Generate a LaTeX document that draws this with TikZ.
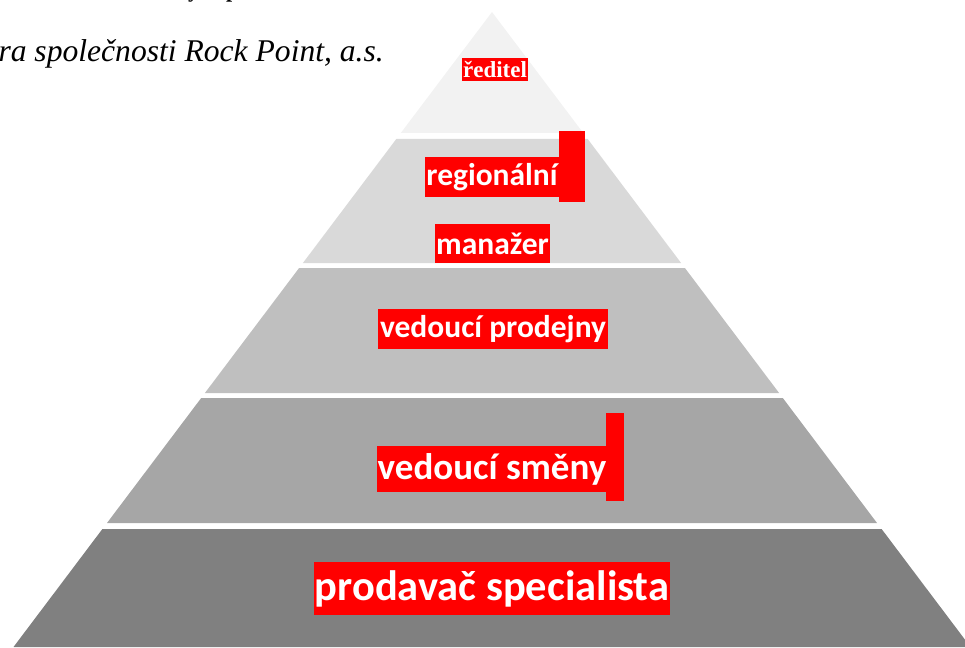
\documentclass[tikz,border=0pt]{standalone}
\usepackage{fontspec}
\setmainfont{Liberation Serif}
\newfontfamily\calib{Carlito}
\definecolor{lay1}{RGB}{242,242,242}
\definecolor{lay2}{RGB}{217,217,217}
\definecolor{lay3}{RGB}{191,191,191}
\definecolor{lay4}{RGB}{166,166,166}
\definecolor{lay5}{RGB}{128,128,128}
\definecolor{lbl}{RGB}{255,0,0}
\tikzset{
  redlabel/.style={fill=lbl, text=white, inner sep=0pt, align=center},
  redbar/.style={fill=lbl, draw=none},
}
\begin{document}
\begin{tikzpicture}[x=1pt,y=-1pt]
\useasboundingbox (0,0) rectangle (965,647);
\begin{scope}
\clip (0,0) rectangle (965,647);
% caption fragments
\node[anchor=base east, inner sep=0pt] (cap) at (384,62) {\fontsize{31.6}{31.6}\selectfont\itshape ra společnosti Rock Point, a.s.};
\node[anchor=base west, inner sep=0pt] (fragy) at (188,-2.2) {\fontsize{22}{22}\selectfont\bfseries y};
\node[anchor=base west, inner sep=0pt] (fragp) at (226,-2.2) {\fontsize{22}{22}\selectfont\bfseries p};
% pyramid layers
\fill[lay1] (492,12) -- (583.2,133) -- (400.8,133) -- cycle;
\fill[lay2] (396.3,139) -- (587.7,139) -- (681.1,263) -- (302.9,263) -- cycle;
\fill[lay3] (299.1,268) -- (684.9,268) -- (779.1,393) -- (204.9,393) -- cycle;
\fill[lay4] (201.2,398) -- (782.8,398) -- (877,523) -- (107,523) -- cycle;
\fill[lay5] (102.4,529) -- (881.6,529) -- (970.5,647) -- (13.5,647) -- cycle;
\end{scope}
% labels
\node[redlabel, minimum width=66pt, minimum height=23pt] (l1) at (495,69.5) {\fontsize{23}{23}\selectfont\bfseries ředitel};
\fill[redbar] (559,131) rectangle (585,202);
\node[redlabel, minimum width=134pt, minimum height=40pt] (l2a) at (492,177) {\calib\bfseries\fontsize{31.5}{31.5}\selectfont regionální};
\node[redlabel, minimum width=115pt, minimum height=39pt] (l2b) at (492.5,243.5) {\calib\bfseries\fontsize{31.5}{31.5}\selectfont manažer};
\node[redlabel, minimum width=230pt, minimum height=40pt] (l3) at (493,329) {\calib\bfseries\fontsize{31.5}{31.5}\selectfont vedoucí prodejny};
\fill[redbar] (606,413) rectangle (624,501);
\node[redlabel, minimum width=230pt, minimum height=46pt] (l4) at (492,469) {\calib\bfseries\fontsize{37}{37}\selectfont vedoucí směny};
\node[redlabel, minimum width=356pt, minimum height=53pt] (l5) at (492,588.5) {\calib\bfseries\fontsize{42.5}{42.5}\selectfont prodavač specialista};
\end{tikzpicture}
\end{document}
